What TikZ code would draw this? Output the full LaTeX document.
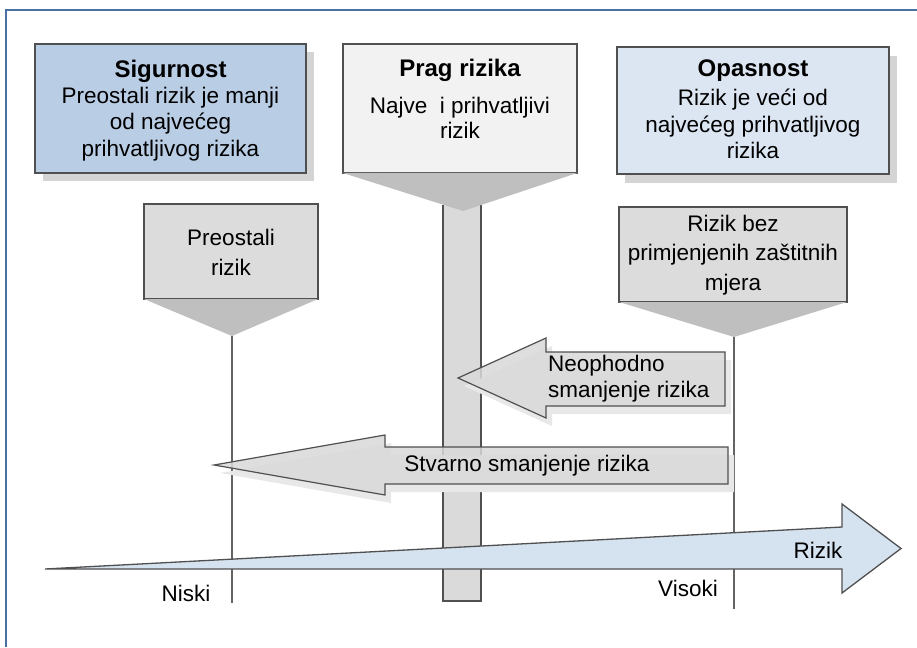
\documentclass[tikz,border=0pt]{standalone}
\usepackage{fontspec}
\setmainfont{Liberation Sans}
\definecolor{framecol}{RGB}{74,112,166}
\definecolor{bordergray}{RGB}{80,80,80}
\definecolor{shadowgray}{RGB}{212,212,212}
\definecolor{sigblue}{RGB}{185,205,229}
\definecolor{opablue}{RGB}{220,230,242}
\definecolor{pragfill}{RGB}{242,242,242}
\definecolor{funnelgray}{RGB}{191,191,191}
\definecolor{smallgray}{RGB}{220,220,220}
\definecolor{bargray}{RGB}{218,218,218}
\definecolor{linegray}{RGB}{100,100,100}
\definecolor{arrowgray}{RGB}{217,217,217}
\definecolor{arrowshadow}{RGB}{232,232,232}
\definecolor{axisblue}{RGB}{213,226,239}
\begin{document}
\begin{tikzpicture}[x=1pt,y=-1pt,
  box/.style={draw=bordergray, line width=1.2pt, inner sep=0pt, outer sep=0pt, anchor=north west},
  shadowbox/.style={fill=shadowgray, draw=none, inner sep=0pt, outer sep=0pt, anchor=north west},
  bodytext/.style={font=\fontsize{22.5}{26.5}\selectfont, align=center, text=black, inner sep=0pt},
  titletext/.style={font=\fontsize{24}{28}\selectfont\bfseries, text=black, inner sep=0pt},
  funnel/.style={fill=funnelgray, draw=none},
  vline/.style={draw=linegray, line width=1.2pt},
  garrow/.style={fill=arrowgray, draw=bordergray, line width=1.2pt, line join=miter},
  ashadow/.style={fill=arrowshadow, draw=none},
]
\useasboundingbox (0,0) rectangle (917,647);
\fill[white] (0,0) rectangle (917,647);
% frame
\draw[framecol, line width=2pt] (6,647) -- (6,10.5) -- (917,10.5);

% shadows of the top boxes
\node[shadowbox, minimum width=271pt, minimum height=129pt] (sigS) at (43,52) {};
\node[shadowbox, minimum width=272pt, minimum height=127pt] (opaS) at (625,56) {};

% top boxes
\node[box, fill=sigblue, minimum width=271pt, minimum height=129pt] (sig) at (35,44) {};
\node[box, fill=pragfill, minimum width=234pt, minimum height=129pt] (prag) at (343,44) {};
\node[box, fill=opablue, minimum width=272pt, minimum height=127pt] (opa) at (617,47) {};

% threshold bar
\fill[bargray] (443,205) rectangle (481,601);
\draw[bordergray, line width=1.2pt] (443,205) -- (443,601) -- (481,601) -- (481,205);
\coordinate (pragTip) at (463,211);
\fill[funnel] (prag.south west) -- (prag.south east) -- (pragTip) -- cycle;

% small boxes
\node[box, fill=smallgray, minimum width=174pt, minimum height=95pt] (pre) at (144,204) {};
\node[box, fill=smallgray, minimum width=228pt, minimum height=95pt] (bez) at (619,207) {};
\coordinate (preTip) at (232,336);
\coordinate (bezTip) at (734,337);
\fill[funnel] (pre.south west) -- (pre.south east) -- (preTip) -- cycle;
\fill[funnel] (bez.south west) -- (bez.south east) -- (bezTip) -- cycle;
\coordinate (preEnd) at (232,603);
\coordinate (bezEnd) at (734,609);
\draw[vline] (preTip) -- (preEnd);
\draw[vline] (bezTip) -- (bezEnd);

% Neophodno arrow
\fill[ashadow] (464,386) -- (552,346) -- (552,360) -- (731,360) -- (731,414) -- (552,414) -- (552,426) -- cycle;
\draw[garrow, fill opacity=0.85] (458,378) -- (546,338) -- (546,352) -- (725,352) -- (725,406) -- (546,406) -- (546,418) -- cycle;

% Stvarno arrow
\fill[ashadow] (220,473) -- (391,443) -- (391,455) -- (734,455) -- (734,492) -- (391,492) -- (391,503) -- cycle;
\draw[garrow, fill opacity=0.85] (214,465) -- (385,435) -- (385,447) -- (728,447) -- (728,484) -- (385,484) -- (385,495) -- cycle;

% risk axis arrow
\draw[fill=axisblue, draw=bordergray, line width=1.3pt, line join=miter]
  (45,569) -- (842,527) -- (842,504) -- (901,548.5) -- (842,593) -- (842,569) -- cycle;

% texts
\node[titletext] (sigT) at (170.5,71) {Sigurnost};
\node[bodytext] (sigB) at (170.5,124) {Preostali rizik je manji\\od najvećeg\\prihvatljivog rizika};
\node[titletext] (pragT) at (460,70) {Prag rizika};
\node[bodytext, font=\fontsize{22.5}{25}\selectfont] (pragB) at (460,118) {Najve\ \ i prihvatljivi\\rizik};
\node[titletext] (opaT) at (753,71) {Opasnost};
\node[bodytext] (opaB) at (753,124) {Rizik je veći od\\najvećeg prihvatljivog\\rizika};
\node[bodytext, font=\fontsize{22.5}{30}\selectfont] (preB) at (231,252) {Preostali\\rizik};
\node[bodytext, font=\fontsize{22.5}{29.5}\selectfont] (bezB) at (733,255) {Rizik bez\\primjenjenih zaštitnih\\mjera};
\node[bodytext, align=left, anchor=west, font=\fontsize{22.5}{26}\selectfont] (neoT) at (548,379) {Neophodno\\smanjenje rizika};
\node[bodytext] (stvT) at (527,466) {Stvarno smanjenje rizika};
\node[bodytext] (rizT) at (818,550) {Rizik};
\node[bodytext] (nisT) at (186,593) {Niski};
\node[bodytext] (visT) at (688,588) {Visoki};
\end{tikzpicture}
\end{document}
